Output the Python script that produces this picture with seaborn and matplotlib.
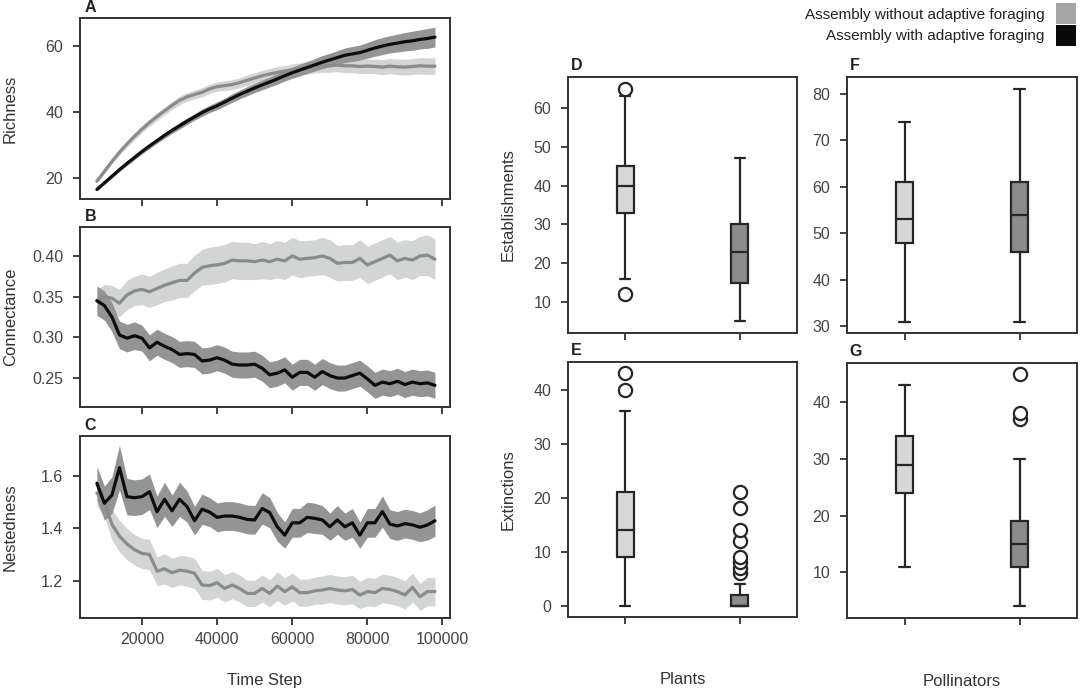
import matplotlib
matplotlib.use("Agg")
import matplotlib.pyplot as plt
from matplotlib.patches import Patch
import seaborn as sns

#### DATA ###
time_steps = list(range(8000, 100000, 2000))

# A - richness
rich_without = [19.0, 22.0, 25.0, 27.8, 30.3, 32.6, 34.8, 36.8, 38.6, 40.3, 42.0, 43.5, 44.6, 45.3,
                 46.0, 47.0, 47.7, 48.0, 48.3, 48.9, 49.6, 50.3, 51.0, 51.5, 52.0, 52.4, 52.8, 53.1,
                 53.4, 53.7, 54.0, 54.0, 54.2, 54.0, 54.0, 53.8, 53.9, 53.8, 53.6, 53.9, 53.7, 53.6,
                 53.8, 54.0, 53.9, 53.9]
rich_without_sd = [0.6, 0.7, 0.8, 0.9, 1.0, 1.0, 1.1, 1.1, 1.2, 1.2, 1.2, 1.3, 1.3, 1.3, 1.4, 1.4,
                   1.4, 1.5, 1.5, 1.5, 1.6, 1.6, 1.6, 1.7, 1.7, 1.7, 1.8, 1.8, 1.9, 1.9, 2.0, 2.0,
                   2.0, 2.1, 2.1, 2.2, 2.2, 2.2, 2.3, 2.3, 2.4, 2.4, 2.4, 2.5, 2.5, 2.5]
rich_with = [16.5, 18.5, 20.5, 22.5, 24.4, 26.2, 28.0, 29.7, 31.3, 32.9, 34.4, 35.8, 37.2, 38.5,
             39.8, 40.9, 41.9, 43.0, 44.2, 45.3, 46.3, 47.3, 48.2, 49.1, 50.0, 51.0, 51.9, 52.7,
             53.5, 54.3, 55.1, 55.8, 56.5, 57.2, 57.6, 58.0, 58.7, 59.4, 60.0, 60.5, 60.9, 61.3,
             61.6, 62.0, 62.3, 62.7]
rich_with_sd = [0.5, 0.5, 0.6, 0.6, 0.7, 0.7, 0.7, 0.8, 0.8, 0.9, 0.9, 1.0, 1.0, 1.0, 1.1, 1.1,
                1.2, 1.2, 1.3, 1.3, 1.4, 1.4, 1.5, 1.5, 1.6, 1.6, 1.7, 1.8, 1.8, 1.9, 2.0, 2.0,
                2.1, 2.2, 2.3, 2.3, 2.4, 2.5, 2.6, 2.6, 2.7, 2.8, 2.9, 2.9, 3.0, 3.0]

# B - connectance
conn_without = [0.345, 0.350, 0.348, 0.342, 0.352, 0.357, 0.359, 0.356, 0.360, 0.364, 0.367, 0.370,
                0.370, 0.379, 0.386, 0.388, 0.389, 0.391, 0.395, 0.394, 0.394, 0.393, 0.395, 0.393,
                0.396, 0.394, 0.400, 0.396, 0.397, 0.398, 0.400, 0.397, 0.391, 0.392, 0.392, 0.397,
                0.389, 0.393, 0.397, 0.401, 0.394, 0.397, 0.395, 0.400, 0.401, 0.396]
conn_without_sd = [0.014, 0.015, 0.016, 0.017, 0.018, 0.018, 0.019, 0.019, 0.020, 0.020, 0.021, 0.021,
                   0.021, 0.022, 0.022, 0.023, 0.023, 0.023, 0.023, 0.023, 0.023, 0.022, 0.023, 0.022,
                   0.023, 0.023, 0.023, 0.023, 0.022, 0.022, 0.023, 0.023, 0.022, 0.022, 0.022, 0.023,
                   0.023, 0.023, 0.023, 0.023, 0.023, 0.023, 0.024, 0.024, 0.025, 0.025]
conn_with = [0.345, 0.339, 0.325, 0.303, 0.299, 0.302, 0.299, 0.287, 0.294, 0.289, 0.285, 0.279,
             0.280, 0.279, 0.271, 0.272, 0.275, 0.272, 0.267, 0.266, 0.266, 0.267, 0.262, 0.254,
             0.256, 0.260, 0.251, 0.257, 0.257, 0.251, 0.258, 0.253, 0.250, 0.250, 0.253, 0.256,
             0.249, 0.241, 0.245, 0.243, 0.246, 0.242, 0.245, 0.243, 0.244, 0.241]
conn_with_sd = [0.018, 0.018, 0.018, 0.017, 0.017, 0.017, 0.016, 0.016, 0.016, 0.016, 0.016, 0.016,
                0.016, 0.016, 0.016, 0.016, 0.016, 0.016, 0.016, 0.016, 0.016, 0.016, 0.016, 0.016,
                0.016, 0.016, 0.016, 0.016, 0.016, 0.016, 0.016, 0.016, 0.016, 0.016, 0.016, 0.016,
                0.016, 0.016, 0.016, 0.016, 0.016, 0.016, 0.016, 0.016, 0.016, 0.016]

# C - nestedness
nest_without = [1.535, 1.500, 1.415, 1.370, 1.340, 1.318, 1.304, 1.300, 1.236, 1.245, 1.230, 1.240,
                1.236, 1.228, 1.183, 1.181, 1.192, 1.170, 1.183, 1.170, 1.151, 1.151, 1.170, 1.151,
                1.179, 1.158, 1.176, 1.154, 1.154, 1.161, 1.164, 1.170, 1.164, 1.161, 1.166, 1.145,
                1.158, 1.154, 1.170, 1.166, 1.158, 1.145, 1.174, 1.138, 1.158, 1.158]
nest_without_sd = [0.050, 0.055, 0.060, 0.060, 0.060, 0.058, 0.058, 0.058, 0.055, 0.058, 0.056, 0.056,
                   0.058, 0.058, 0.055, 0.055, 0.055, 0.052, 0.052, 0.052, 0.050, 0.050, 0.052, 0.052,
                   0.055, 0.052, 0.054, 0.052, 0.052, 0.052, 0.054, 0.054, 0.054, 0.054, 0.055, 0.052,
                   0.054, 0.054, 0.055, 0.055, 0.054, 0.054, 0.055, 0.052, 0.054, 0.054]
nest_with = [1.572, 1.496, 1.527, 1.632, 1.521, 1.517, 1.521, 1.540, 1.463, 1.511, 1.467, 1.511,
             1.483, 1.429, 1.473, 1.462, 1.442, 1.447, 1.447, 1.442, 1.434, 1.432, 1.476, 1.460,
             1.406, 1.374, 1.421, 1.421, 1.442, 1.438, 1.432, 1.406, 1.432, 1.406, 1.421, 1.374,
             1.421, 1.421, 1.464, 1.416, 1.409, 1.418, 1.413, 1.404, 1.413, 1.429]
nest_with_sd = [0.065, 0.065, 0.070, 0.085, 0.070, 0.068, 0.068, 0.068, 0.060, 0.065, 0.060, 0.065,
                0.060, 0.055, 0.058, 0.055, 0.055, 0.055, 0.055, 0.055, 0.055, 0.055, 0.060, 0.058,
                0.055, 0.050, 0.055, 0.055, 0.058, 0.058, 0.055, 0.052, 0.055, 0.052, 0.055, 0.050,
                0.055, 0.055, 0.060, 0.055, 0.055, 0.055, 0.055, 0.055, 0.058, 0.060]

# box summaries: [whisker low, q1, median, q3, whisker high], outliers
groups = ["Assembly without adaptive foraging", "Assembly with adaptive foraging"]
est_plants = [[16, 33, 40, 45, 63], [5, 15, 23, 30, 47]]
est_plants_out = [[65, 12], []]
est_poll = [[31, 48, 53, 61, 74], [31, 46, 54, 61, 81]]
est_poll_out = [[], []]
ext_plants = [[0, 9, 14, 21, 36], [0, 0, 0, 2, 4]]
ext_plants_out = [[40, 43], [6, 7, 8, 9, 12, 14, 18, 21]]
ext_poll = [[11, 24, 29, 34, 43], [4, 11, 15, 19, 30]]
ext_poll_out = [[], [37, 38, 45]]

### STYLE ###
LINE_COLORS = ["#8a8b8b", "#0d0d0d"]
BAND_COLORS = ["#d3d5d5", "#939595"]
BOX_COLORS = ["#d6d8d8", "#8b8d8d"]
LEGEND_COLORS = ["#a4a6a6", "#0a0a0a"]
EDGE = "#262626"

sns.set_theme(style="ticks")
plt.rcParams["font.family"] = ["Liberation Sans", "DejaVu Sans"]
plt.rcParams.update({
    "font.size": 11,
    "axes.edgecolor": "#333333",
    "axes.linewidth": 1.4,
    "xtick.color": "#333333",
    "ytick.color": "#333333",
    "xtick.labelcolor": "#444444",
    "ytick.labelcolor": "#444444",
    "xtick.major.size": 5,
    "ytick.major.size": 5,
    "xtick.major.width": 1.3,
    "ytick.major.width": 1.3,
    "xtick.major.pad": 5,
    "ytick.major.pad": 7,
    "xtick.labelsize": 11.5,
    "ytick.labelsize": 11.5,
    "axes.labelcolor": "#333333",
    "axes.labelsize": 12,
})

W, H = 1080, 691
fig = plt.figure(figsize=(W / 100, H / 100), dpi=100)


def px_axes(left, right, top, bottom):
    return fig.add_axes([left / W, 1 - bottom / H, (right - left) / W, (bottom - top) / H])


def panel_letter(ax, letter):
    ax.text(0.012, 1.015, letter, transform=ax.transAxes, fontweight="bold",
            fontsize=11.5, va="bottom", ha="left", color="#222222")


def time_panel(ax, series, ylabel, ylim, yticks, letter):
    for i, (mean, sd) in enumerate(series):
        lo = [m - s for m, s in zip(mean, sd)]
        hi = [m + s for m, s in zip(mean, sd)]
        ax.fill_between(time_steps, lo, hi, color=BAND_COLORS[i], lw=0, zorder=1 + i)
    for i, (mean, sd) in enumerate(series):
        sns.lineplot(x=time_steps, y=mean, ax=ax, color=LINE_COLORS[i], lw=2.3, zorder=4 + i)
    ax.set_xlim(3500, 102000)
    ax.set_ylim(*ylim)
    ax.set_yticks(yticks)
    ax.set_xticks([20000, 40000, 60000, 80000, 100000])
    panel_letter(ax, letter)
    # y label centred around x ~ 10 px
    ax.set_ylabel(ylabel)
    ax.yaxis.set_label_coords(-(80 - 18) / 370, 0.5)


def box_panel(ax, summaries, outliers, ylim, yticks, letter, ylabel=None, xlabel=None):
    stats = []
    for s, o in zip(summaries, outliers):
        stats.append(dict(whislo=s[0], q1=s[1], med=s[2], q3=s[3], whishi=s[4], fliers=o))
    bp = ax.bxp(stats, positions=[0, 1], widths=0.15, capwidths=0.09, patch_artist=True,
                boxprops=dict(edgecolor=EDGE, linewidth=1.6),
                medianprops=dict(color=EDGE, linewidth=1.6),
                whiskerprops=dict(color=EDGE, linewidth=1.6),
                capprops=dict(color=EDGE, linewidth=1.6),
                flierprops=dict(marker="o", markersize=9.5, markerfacecolor="white",
                                markeredgecolor=EDGE, markeredgewidth=1.6))
    for patch, c in zip(bp["boxes"], BOX_COLORS):
        patch.set_facecolor(c)
    ax.set_xlim(-0.5, 1.5)
    ax.set_ylim(*ylim)
    ax.set_yticks(yticks)
    ax.set_xticks([0, 1])
    ax.set_xticklabels(["", ""])
    if ylabel:
        ax.set_ylabel(ylabel)
        ax.yaxis.set_label_coords(-(568 - 516) / 229, 0.5)
    if xlabel:
        ax.set_xlabel(xlabel)
        ax.xaxis.set_label_coords(0.5, -(680 - 617) / 255)
    panel_letter(ax, letter)


ax_a = px_axes(80, 450, 18, 199)
ax_b = px_axes(80, 450, 227, 407)
ax_c = px_axes(80, 450, 436, 618)

time_panel(ax_a, [(rich_without, rich_without_sd), (rich_with, rich_with_sd)],
           "Richness", (13.6, 68.5), [20, 40, 60], "A")
time_panel(ax_b, [(conn_without, conn_without_sd), (conn_with, conn_with_sd)],
           "Connectance", (0.2144, 0.4356), [0.25, 0.30, 0.35, 0.40], "B")
time_panel(ax_c, [(nest_without, nest_without_sd), (nest_with, nest_with_sd)],
           "Nestedness", (1.057, 1.753), [1.2, 1.4, 1.6], "C")
ax_a.set_xticklabels([])
ax_b.set_xticklabels([])
ax_b.yaxis.set_major_formatter(matplotlib.ticker.FormatStrFormatter("%.2f"))
ax_c.set_xticklabels(["20000", "40000", "60000", "80000", "100000"])
ax_c.set_xlabel("Time Step")
ax_c.xaxis.set_label_coords(0.5, -(680 - 618) / 182)
ax_c.xaxis.label.set_va("center")

ax_d = px_axes(568, 797, 77, 333)
ax_f = px_axes(847, 1077, 77, 333)
ax_e = px_axes(568, 797, 362, 617)
ax_g = px_axes(847, 1077, 363, 618)

box_panel(ax_d, est_plants, est_plants_out, (2, 68), [10, 20, 30, 40, 50, 60], "D",
          ylabel="Establishments")
box_panel(ax_f, est_poll, est_poll_out, (28.6, 83.6), [30, 40, 50, 60, 70, 80], "F")
box_panel(ax_e, ext_plants, ext_plants_out, (-2.1, 45.1), [0, 10, 20, 30, 40], "E",
          ylabel="Extinctions", xlabel="Plants")
box_panel(ax_g, ext_poll, ext_poll_out, (1.93, 46.9), [10, 20, 30, 40], "G",
          xlabel="Pollinators")
for ax in (ax_e, ax_g):
    ax.xaxis.label.set_va("center")

handles = [Patch(facecolor=c, edgecolor="none") for c in LEGEND_COLORS]
fig.legend(handles, groups, loc="upper right", bbox_to_anchor=(1076 / W, 1 - 3 / H),
           frameon=False, markerfirst=False, borderaxespad=0, borderpad=0,
           handlelength=1.3, handleheight=1.75, handletextpad=0.75, labelspacing=0.05,
           fontsize=11, labelcolor="#222222")

fig.savefig("out.png", dpi=100)
